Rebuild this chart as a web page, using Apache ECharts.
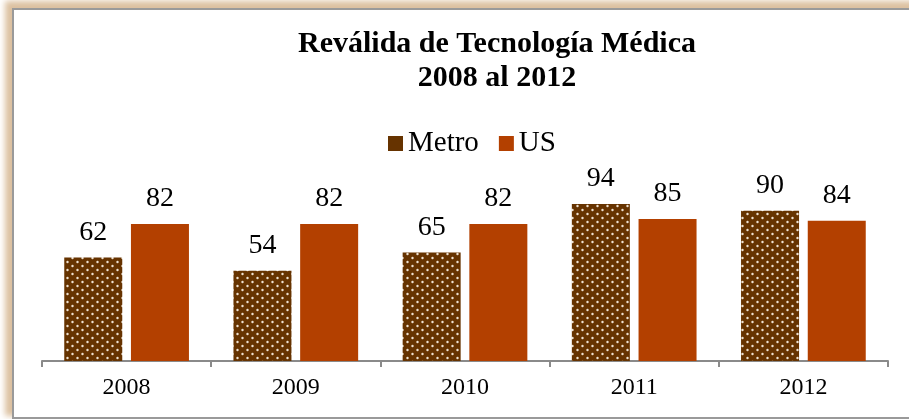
<!DOCTYPE html>
<html>
<head>
<meta charset="utf-8">
<script src="https://cdn.jsdelivr.net/npm/echarts@6/dist/echarts.min.js"></script>
<style>
  html, body { margin: 0; padding: 0; background: #fff; overflow: hidden; }
  .frame {
    position: absolute; left: 12px; top: 8px; width: 940px; height: 407px;
    border: 2px solid #9a9a9a; box-shadow: -5px -5px 6px 2px #dcc1a0;
  }
  #chart { position: absolute; left: 0; top: 0; width: 909px; height: 419px; }
</style>
</head>
<body>
<div class="frame"></div>
<div id="chart"></div>
<script>
// datos
const years = ["2008", "2009", "2010", "2011", "2012"];
const metro = [62, 54, 65, 94, 90];
const us = [82, 82, 82, 85, 84];

// patron de puntos para Metro
function dotPattern() {
  const c = document.createElement("canvas");
  c.width = 10;
  c.height = 8;
  const ctx = c.getContext("2d");
  ctx.fillStyle = "#663300";
  ctx.fillRect(0, 0, 10, 8);
  ctx.fillStyle = "#efe2d2";
  ctx.beginPath();
  ctx.arc(2.5, 2, 1.2, 0, Math.PI * 2);
  ctx.arc(7.5, 6, 1.2, 0, Math.PI * 2);
  ctx.fill();
  return c;
}

const serif = "'Liberation Serif', 'Times New Roman', serif";
const myChart = echarts.init(document.getElementById("chart"));
const option = {
  animation: false,
  title: {
    text: "Reválida de Tecnología Médica\n2008 al 2012",
    left: 492,
    textAlign: "center",
    top: 22,
    textStyle: {
      fontFamily: serif,
      fontWeight: "bold",
      fontSize: 30,
      lineHeight: 34,
      color: "#000",
    },
  },
  legend: {
    top: 124,
    left: 383,
    itemWidth: 15,
    itemHeight: 15,
    itemGap: 20,
    icon: "rect",
    textStyle: { fontFamily: serif, fontSize: 29, color: "#000" },
    data: [
      { name: "Metro", itemStyle: { color: "#663300" } },
      { name: "US", itemStyle: { color: "#b34000" } },
    ],
  },
  grid: { left: 42, right: 21, top: 194, bottom: 58 },
  xAxis: {
    type: "category",
    data: years,
    axisLine: { lineStyle: { color: "#8a8a8a", width: 2 } },
    axisTick: { show: true, length: 6, lineStyle: { color: "#8a8a8a", width: 2 } },
    axisLabel: { fontFamily: serif, fontSize: 24, color: "#000", margin: 15 },
  },
  yAxis: { type: "value", min: 0, max: 100, show: false },
  series: [
    {
      name: "Metro",
      type: "bar",
      data: metro,
      barWidth: 58,
      barGap: "15%",
      itemStyle: { color: { image: dotPattern(), repeat: "repeat" } },
      label: {
        show: true,
        position: "top",
        distance: 11,
        fontFamily: serif,
        fontSize: 28,
        color: "#000",
      },
    },
    {
      name: "US",
      type: "bar",
      data: us,
      barWidth: 58,
      itemStyle: { color: "#b34000" },
      label: {
        show: true,
        position: "top",
        distance: 11,
        fontFamily: serif,
        fontSize: 28,
        color: "#000",
      },
    },
  ],
};
myChart.setOption(option);
</script>
</body>
</html>
